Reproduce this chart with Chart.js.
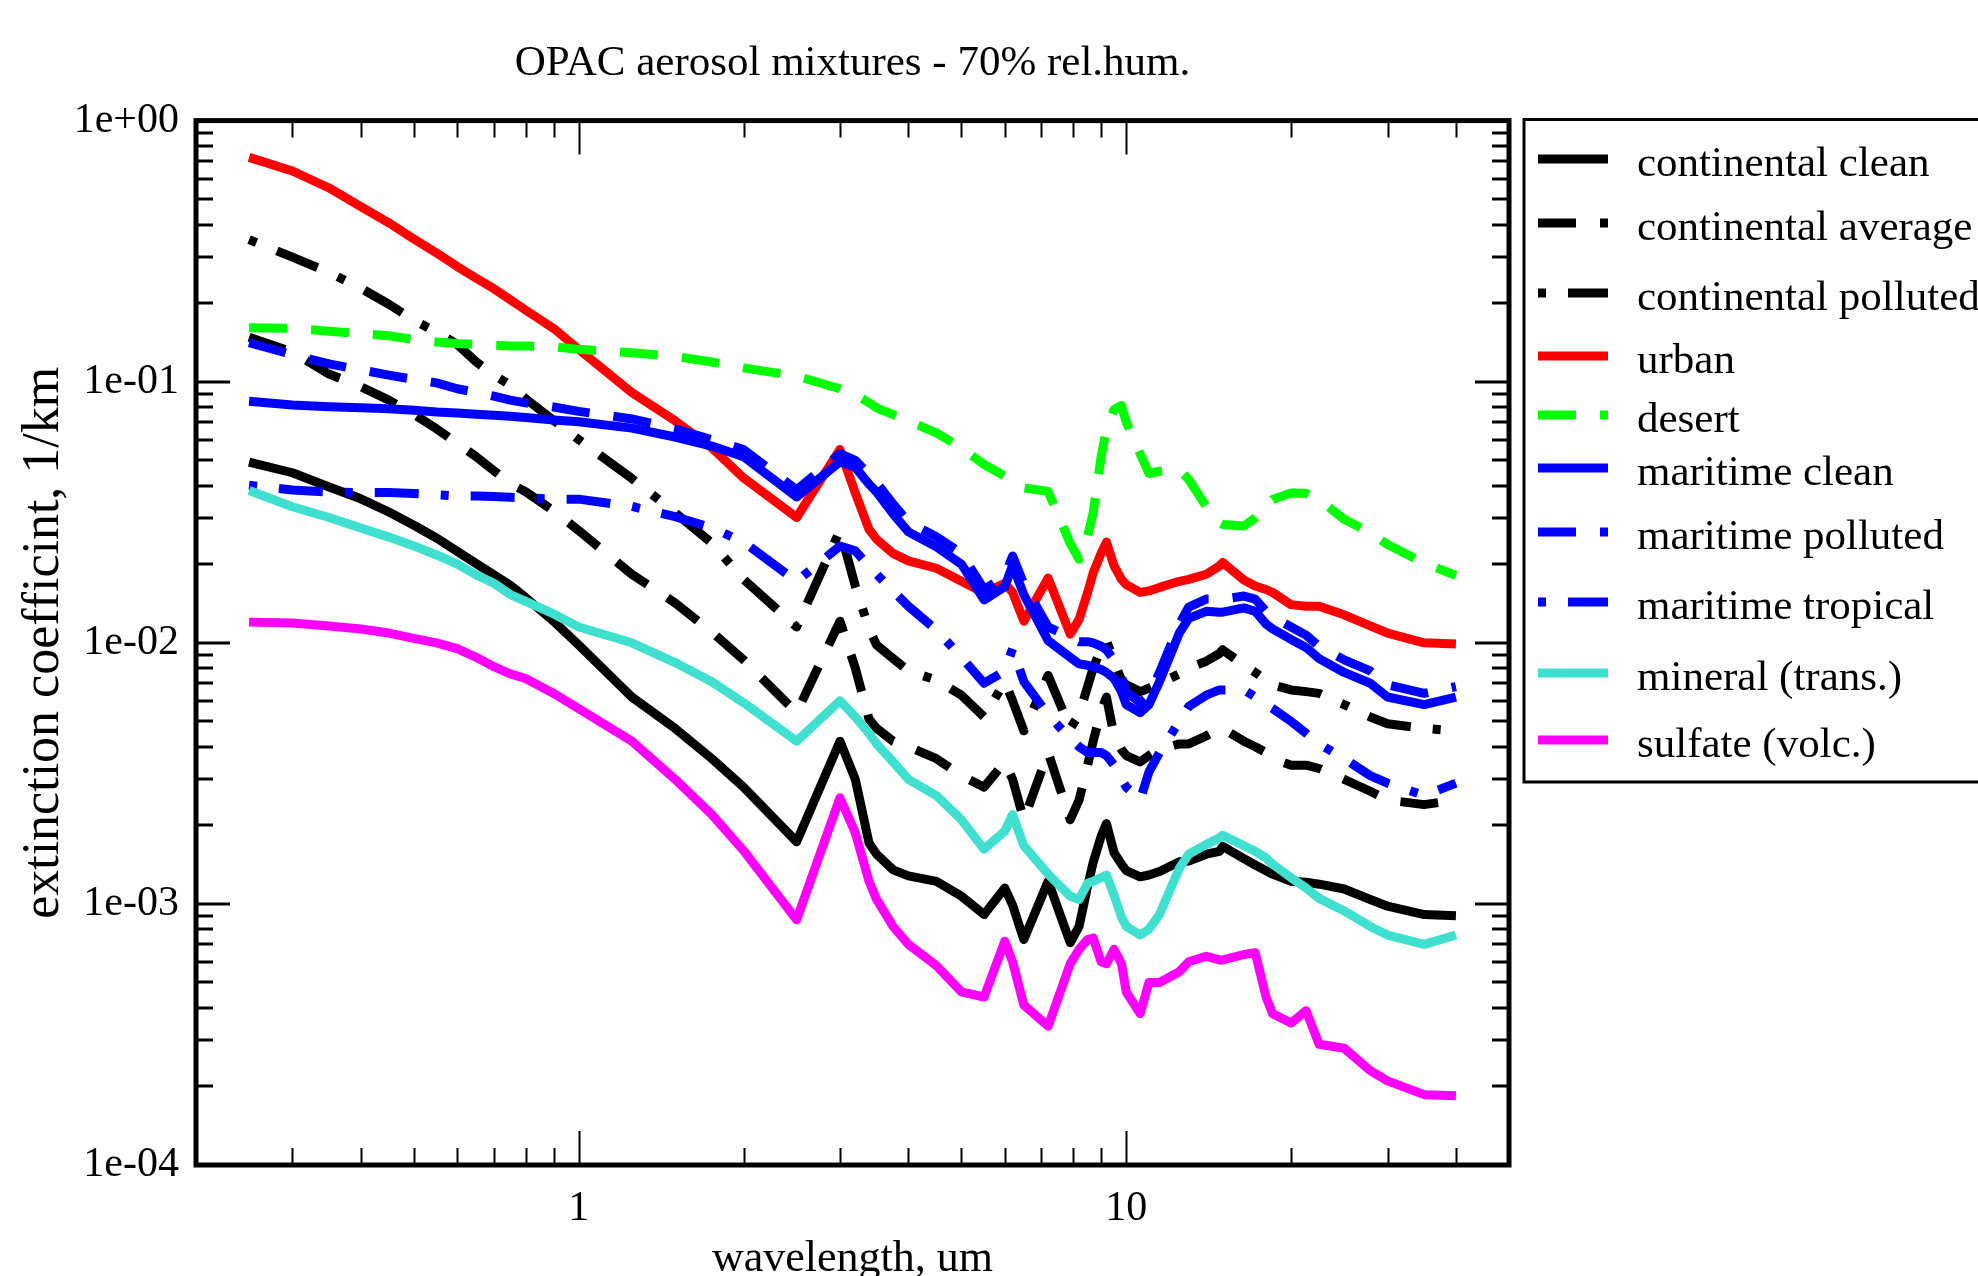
<!DOCTYPE html>
<html>
<head>
<meta charset="utf-8">
<title>OPAC aerosol mixtures - 70% rel.hum.</title>
<script src="https://cdn.jsdelivr.net/npm/chart.js@4.4.1/dist/chart.umd.min.js"></script>
<style>
  html, body { margin: 0; padding: 0; background: #fff; }
  #chart { display: block; }
</style>
</head>
<body>
<canvas id="chart" width="1978" height="1276"></canvas>
<script>
// --- DONNEES ---
const wavelengths = [0.25, 0.3, 0.35, 0.4, 0.45, 0.5, 0.55, 0.6, 0.65, 0.7, 0.75, 0.8, 0.9, 1.0,
  1.25, 1.5, 1.75, 2.0, 2.5, 3.0, 3.2, 3.39, 3.5, 3.75, 4.0, 4.5, 5.0, 5.5, 6.0, 6.2, 6.5, 7.2,
  7.9, 8.2, 8.5, 8.7, 9.0, 9.2, 9.5, 9.8, 10.0, 10.6, 11.0, 11.5, 12.5, 13.0, 14.0, 14.8, 15.0,
  16.4, 17.2, 18.0, 18.5, 20.0, 21.3, 22.5, 25.0, 27.9, 30.0, 35.0, 40.0];

const continentalClean = [0.0492, 0.0448, 0.0395, 0.0356, 0.0317, 0.0282, 0.0252, 0.0224, 0.0201, 0.0182, 0.0166, 0.0149, 0.0121, 0.0098,
  0.0062, 0.0047, 0.0036, 0.0028, 0.00173, 0.0042, 0.0030, 0.00171, 0.00155, 0.00135, 0.00128, 0.00122, 0.00107, 0.00091, 0.00115, 0.00099, 0.00073, 0.00122,
  0.00071, 0.00082, 0.00117, 0.00144, 0.00182, 0.00203, 0.00157, 0.00142, 0.00134, 0.00127, 0.00129, 0.00133, 0.00145, 0.00146, 0.00155, 0.00159, 0.00166,
  0.00149, 0.00141, 0.00134, 0.0013, 0.00122, 0.00121, 0.00119, 0.00114, 0.00104, 0.00098, 0.00091, 0.0009];

const continentalAverage = [0.148, 0.130, 0.107, 0.0957, 0.085, 0.075, 0.066, 0.058, 0.0516, 0.0456, 0.0407, 0.0379, 0.032, 0.0269,
  0.0183, 0.0142, 0.011, 0.0086, 0.0054, 0.0121, 0.0080, 0.0051, 0.0047, 0.0042, 0.0040, 0.0036, 0.0031, 0.0028, 0.0035, 0.0030, 0.0021, 0.0038,
  0.0021, 0.0025, 0.0034, 0.0042, 0.0055, 0.0062, 0.0044, 0.0039, 0.0037, 0.0035, 0.0037, 0.0039, 0.0041, 0.0041, 0.0044, 0.0047, 0.0047,
  0.0042, 0.0040, 0.0038, 0.0036, 0.0034, 0.0034, 0.0033, 0.0030, 0.0027, 0.0025, 0.0024, 0.0025];

const continentalPolluted = [0.35, 0.30, 0.262, 0.228, 0.198, 0.172, 0.155, 0.139, 0.119, 0.106, 0.097, 0.086, 0.071, 0.060,
  0.0426, 0.0315, 0.0241, 0.0175, 0.0115, 0.027, 0.0165, 0.0113, 0.0098, 0.0087, 0.0078, 0.0072, 0.0063, 0.0052, 0.0071, 0.0060, 0.0046, 0.0075,
  0.0047, 0.0053, 0.0068, 0.0080, 0.0095, 0.0102, 0.0085, 0.0072, 0.0069, 0.0065, 0.0067, 0.0070, 0.0076, 0.0080, 0.0085, 0.0091, 0.0094,
  0.0082, 0.0077, 0.0072, 0.0069, 0.0066, 0.0065, 0.0064, 0.0058, 0.0052, 0.0049, 0.0047, 0.0046];

const urban = [0.723, 0.641, 0.552, 0.468, 0.406, 0.352, 0.311, 0.276, 0.249, 0.227, 0.206, 0.188, 0.160, 0.133,
  0.091, 0.0708, 0.0558, 0.0428, 0.0302, 0.055, 0.0375, 0.0272, 0.0249, 0.0220, 0.0206, 0.0193, 0.0172, 0.0155, 0.0169, 0.0156, 0.0121, 0.0177,
  0.0108, 0.0123, 0.0156, 0.0185, 0.0221, 0.0243, 0.0197, 0.0175, 0.0167, 0.0156, 0.0158, 0.0163, 0.0172, 0.0175, 0.0183, 0.0197, 0.0203,
  0.0174, 0.0165, 0.0160, 0.0156, 0.0140, 0.0138, 0.0138, 0.0128, 0.0116, 0.0109, 0.0100, 0.0099];

const desert = [0.161, 0.160, 0.156, 0.153, 0.150, 0.145, 0.142, 0.140, 0.139, 0.138, 0.137, 0.137, 0.136, 0.133,
  0.129, 0.125, 0.119, 0.113, 0.105, 0.094, 0.0893, 0.083, 0.0794, 0.0748, 0.0706, 0.0637, 0.0558, 0.0482, 0.0435, 0.0416, 0.0392, 0.0380,
  0.0240, 0.0209, 0.0256, 0.0315, 0.0519, 0.0656, 0.0783, 0.0810, 0.0700, 0.0530, 0.0445, 0.0454, 0.0461, 0.0422, 0.0333, 0.0288, 0.0284,
  0.0280, 0.0301, 0.0333, 0.0354, 0.0375, 0.0374, 0.0354, 0.0297, 0.0264, 0.0238, 0.0202, 0.0181];

const maritimeClean = [0.0841, 0.0815, 0.0802, 0.0794, 0.0787, 0.0778, 0.0766, 0.0759, 0.0751, 0.0744, 0.0737, 0.0730, 0.0714, 0.0703,
  0.0664, 0.0614, 0.0567, 0.0516, 0.0362, 0.0494, 0.0470, 0.0405, 0.0378, 0.0312, 0.0266, 0.0233, 0.0200, 0.0146, 0.0164, 0.0198, 0.0153, 0.0102,
  0.0088, 0.0083, 0.0082, 0.0081, 0.0079, 0.0077, 0.0073, 0.0065, 0.0058, 0.0054, 0.0058, 0.0071, 0.0109, 0.0124, 0.0132, 0.0131, 0.0131,
  0.0136, 0.0132, 0.0118, 0.0113, 0.0103, 0.0096, 0.0087, 0.0077, 0.0070, 0.0062, 0.0058, 0.0062];

const maritimePolluted = [0.141, 0.127, 0.117, 0.111, 0.106, 0.102, 0.099, 0.094, 0.091, 0.088, 0.085, 0.083, 0.080, 0.077,
  0.072, 0.066, 0.060, 0.055, 0.0385, 0.053, 0.050, 0.044, 0.041, 0.034, 0.029, 0.0255, 0.022, 0.016, 0.018, 0.0215, 0.0168, 0.0115,
  0.0105, 0.0101, 0.0101, 0.0100, 0.0097, 0.0094, 0.0086, 0.0074, 0.0065, 0.0059, 0.0063, 0.0077, 0.0118, 0.0137, 0.0147, 0.0147, 0.0147,
  0.0151, 0.0147, 0.0132, 0.0126, 0.0115, 0.0107, 0.0097, 0.0086, 0.0078, 0.0069, 0.0064, 0.0068];

const maritimeTropical = [0.0401, 0.0385, 0.0378, 0.0376, 0.0376, 0.0373, 0.0369, 0.0365, 0.0365, 0.0363, 0.0361, 0.0359, 0.0355, 0.0355,
  0.0333, 0.0304, 0.0276, 0.0243, 0.0172, 0.0235, 0.0225, 0.0196, 0.0183, 0.0158, 0.0138, 0.0112, 0.0088, 0.0070, 0.0078, 0.0095, 0.0071, 0.0053,
  0.0043, 0.0040, 0.0038, 0.0038, 0.0038, 0.0037, 0.0034, 0.0030, 0.0028, 0.0025, 0.0032, 0.0038, 0.0050, 0.0057, 0.0063, 0.0066, 0.0066,
  0.0066, 0.0062, 0.0058, 0.0056, 0.0050, 0.0045, 0.0041, 0.0036, 0.0031, 0.0029, 0.0026, 0.0029];

const mineralTrans = [0.0383, 0.0332, 0.0302, 0.0275, 0.0254, 0.0235, 0.0217, 0.0200, 0.0182, 0.0169, 0.0153, 0.0144, 0.0129, 0.0115,
  0.0100, 0.0084, 0.0071, 0.0059, 0.0042, 0.0060, 0.0052, 0.0045, 0.0041, 0.0035, 0.0030, 0.0026, 0.0021, 0.00162, 0.0019, 0.0022, 0.00167, 0.0013,
  0.00107, 0.00104, 0.0012, 0.00122, 0.00126, 0.00129, 0.00108, 0.00089, 0.00082, 0.00076, 0.0008, 0.00091, 0.00137, 0.00155, 0.00169, 0.00179, 0.00183,
  0.00167, 0.00159, 0.0015, 0.00142, 0.00126, 0.00115, 0.00105, 0.00094, 0.00082, 0.00076, 0.0007, 0.00076];

const sulfateVolc = [0.0120, 0.0119, 0.0116, 0.0113, 0.0109, 0.0104, 0.0100, 0.0095, 0.0088, 0.0081, 0.0076, 0.0073, 0.0064, 0.0056,
  0.0042, 0.0030, 0.0022, 0.0016, 0.00087, 0.00255, 0.00187, 0.00122, 0.00104, 0.00082, 0.0007, 0.00058, 0.00046, 0.00044, 0.00072, 0.0006, 0.00041, 0.00034,
  0.00059, 0.00067, 0.00073, 0.00074, 0.0006, 0.00059, 0.00067, 0.00059, 0.00046, 0.00038, 0.0005, 0.0005, 0.00055, 0.0006, 0.00063, 0.00061, 0.00061,
  0.00064, 0.00065, 0.00044, 0.00038, 0.00035, 0.00039, 0.00029, 0.00028, 0.00023, 0.00021, 0.000186, 0.000184];

const seriesLabels = ['continental clean', 'continental average', 'continental polluted', 'urban', 'desert',
  'maritime clean', 'maritime polluted', 'maritime tropical', 'mineral (trans.)', 'sulfate (volc.)'];
const seriesValues = [continentalClean, continentalAverage, continentalPolluted, urban, desert,
  maritimeClean, maritimePolluted, maritimeTropical, mineralTrans, sulfateVolc];

// graduations
const xLabelTicks = [1, 10];
const xMinorTicks = [0.3, 0.4, 0.5, 0.6, 0.7, 0.8, 0.9, 2, 3, 4, 5, 6, 7, 8, 9, 20, 30, 40];
const yLabelTicks = [1e-4, 1e-3, 1e-2, 1e-1, 1];

// --- STYLE ---
const SERIF = '"Liberation Serif", "DejaVu Serif", serif';
const DASH = [38, 24];
const DOT_DASH = [8, 22, 44, 22];
const colors = ['#000000', '#000000', '#000000', '#ff0000', '#00ff00',
  '#0000ff', '#0000ff', '#0000ff', '#40e0d0', '#ff00ff'];
const dashes = [[], DASH, DOT_DASH, [], DASH, [], DASH, DOT_DASH, [], []];
const legendRowY = [159, 223, 293, 356, 415, 468, 532, 602, 673, 740];

const datasets = seriesValues.map((vals, i) => ({
  label: seriesLabels[i],
  data: vals,
  borderColor: colors[i],
  backgroundColor: colors[i],
  borderWidth: 9,
  borderDash: dashes[i],
  borderCapStyle: 'butt',
  borderJoinStyle: 'round',
  pointRadius: 0,
  tension: 0,
  fill: false,
  order: seriesValues.length - i
}));

function expLabel(v) {
  const e = Math.round(Math.log10(v));
  return '1e' + (e < 0 ? '-' : '+') + String(Math.abs(e)).padStart(2, '0');
}

// cadre et graduations vers l'intérieur
const frameTicks = {
  id: 'frameTicks',
  afterDatasetsDraw(chart) {
    const { ctx, chartArea: a, scales: { x, y } } = chart;
    const major = 34, minor = 17;
    ctx.save();
    ctx.strokeStyle = '#000';
    ctx.lineCap = 'butt';
    ctx.setLineDash([]);

    ctx.lineWidth = 2;
    const xTicks = xLabelTicks.map(v => [v, major]).concat(xMinorTicks.map(v => [v, minor]));
    xTicks.forEach(([v, len]) => {
      const px = Math.round(x.getPixelForValue(v)) + 0.5;
      ctx.beginPath();
      ctx.moveTo(px, a.bottom); ctx.lineTo(px, a.bottom - len);
      ctx.moveTo(px, a.top); ctx.lineTo(px, a.top + len);
      ctx.stroke();
    });

    ctx.lineWidth = 3;
    const yTicks = [];
    yLabelTicks.forEach(v => {
      yTicks.push([v, major]);
      if (v < 1) for (let k = 2; k <= 9; k++) yTicks.push([v * k, minor]);
    });
    yTicks.forEach(([v, len]) => {
      const py = Math.round(y.getPixelForValue(v));
      ctx.beginPath();
      ctx.moveTo(a.left, py); ctx.lineTo(a.left + len, py);
      ctx.moveTo(a.right, py); ctx.lineTo(a.right - len, py);
      ctx.stroke();
    });

    ctx.lineWidth = 5;
    ctx.strokeRect(a.left, a.top, a.right - a.left, a.bottom - a.top);
    ctx.restore();
  }
};

// légende encadrée à droite
const boxLegend = {
  id: 'boxLegend',
  afterDraw(chart) {
    const ctx = chart.ctx;
    ctx.save();
    ctx.strokeStyle = '#000';
    ctx.lineWidth = 3;
    ctx.setLineDash([]);
    ctx.strokeRect(1524, 119.5, 520, 662.5);
    ctx.font = '43px ' + SERIF;
    ctx.textBaseline = 'middle';
    ctx.textAlign = 'left';
    chart.data.datasets.forEach((ds, i) => {
      const yy = legendRowY[i];
      ctx.beginPath();
      ctx.strokeStyle = ds.borderColor;
      ctx.lineWidth = ds.borderWidth;
      ctx.lineCap = 'butt';
      ctx.setLineDash(ds.borderDash);
      ctx.moveTo(1538, yy);
      ctx.lineTo(1608, yy);
      ctx.stroke();
      ctx.setLineDash([]);
      ctx.fillStyle = '#000';
      ctx.fillText(ds.label, 1637, yy + 6);
    });
    ctx.restore();
  }
};

Chart.defaults.font.family = SERIF;
Chart.defaults.color = '#000';

new Chart(document.getElementById('chart'), {
  type: 'line',
  data: { labels: wavelengths, datasets: datasets },
  options: {
    responsive: false,
    animation: false,
    devicePixelRatio: 1,
    layout: { padding: { left: 0, right: 469, top: 0, bottom: 0 } },
    plugins: {
      legend: { display: false },
      tooltip: { enabled: false },
      title: {
        display: true,
        fullSize: false,
        text: 'OPAC aerosol mixtures - 70% rel.hum.',
        color: '#000',
        font: { family: SERIF, size: 43, weight: 'normal' },
        padding: { top: 38, bottom: 31 }
      }
    },
    scales: {
      x: {
        type: 'logarithmic',
        position: 'bottom',
        min: 0.2,
        max: 50,
        grid: { display: false },
        border: { display: false },
        afterBuildTicks: s => { s.ticks = xLabelTicks.map(v => ({ value: v })); },
        afterFit: s => { s.height = 111; },
        ticks: {
          autoSkip: false,
          maxRotation: 0,
          padding: 11,
          color: '#000',
          font: { family: SERIF, size: 42 },
          callback: v => String(v)
        },
        title: {
          display: true,
          text: 'wavelength, um',
          color: '#000',
          font: { family: SERIF, size: 44, weight: 'normal' },
          padding: { top: 0, bottom: -10 }
        }
      },
      y: {
        type: 'logarithmic',
        position: 'left',
        min: 1e-4,
        max: 1,
        grid: { display: false },
        border: { display: false },
        afterBuildTicks: s => { s.ticks = yLabelTicks.map(v => ({ value: v })); },
        afterFit: s => { s.width = 196; },
        ticks: {
          autoSkip: false,
          padding: 9,
          color: '#000',
          font: { family: SERIF, size: 42 },
          callback: v => expLabel(v)
        },
        title: {
          display: true,
          text: 'extinction coefficint, 1/km',
          color: '#000',
          font: { family: SERIF, size: 52, weight: 'normal' },
          padding: { top: 13, bottom: 0 }
        }
      }
    }
  },
  plugins: [frameTicks, boxLegend]
});
</script>
</body>
</html>
